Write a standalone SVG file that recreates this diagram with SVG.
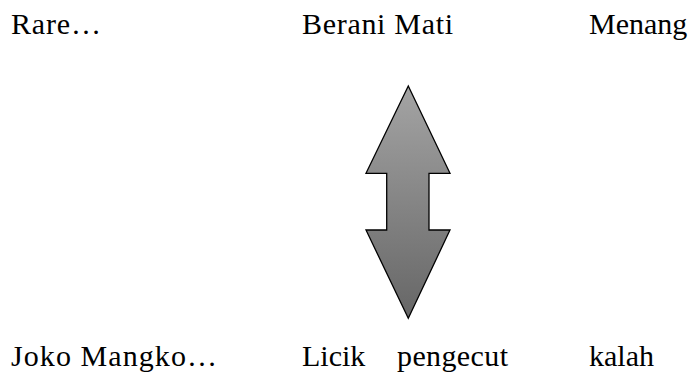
<svg xmlns="http://www.w3.org/2000/svg" width="694" height="374" viewBox="0 0 694 374">
<style>
  .t { font-family: 'Liberation Serif', 'Times New Roman', Times, serif; font-size: 30px; fill: #000; }
</style>
<defs>
  <linearGradient id="g" x1="0" y1="0" x2="0" y2="1">
    <stop offset="0" stop-color="#a4a4a4"/>
    <stop offset="1" stop-color="#666666"/>
  </linearGradient>
</defs>
<rect width="694" height="374" fill="#fff"/>
<g id="labels-top" class="t">
  <text x="11" y="34" textLength="90" lengthAdjust="spacing">Rare…</text>
  <text x="302" y="34" textLength="151" lengthAdjust="spacing">Berani Mati</text>
  <text x="589" y="34">Menang</text>
</g>
<g id="arrow">
  <path d="M408.3,86 L450,173.3 L429,173.3 L429,230 L450,230 L408.3,318.3 L366,230 L386.7,230 L386.7,173.3 L366,173.3 Z" fill="url(#g)" stroke="#000" stroke-width="1.3" stroke-linejoin="miter"/>
</g>
<g id="labels-bottom" class="t">
  <text x="11" y="366" textLength="206" lengthAdjust="spacing">Joko Mangko…</text>
  <text x="302" y="366">Licik</text>
  <text x="397" y="366" textLength="111" lengthAdjust="spacing">pengecut</text>
  <text x="589" y="366">kalah</text>
</g>
</svg>
